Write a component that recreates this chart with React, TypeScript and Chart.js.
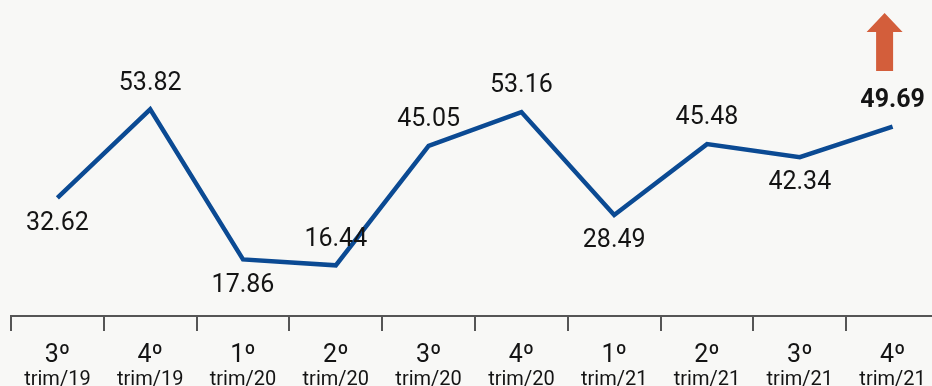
import React, { useEffect, useRef } from "react";
import { Chart, registerables } from "chart.js";

Chart.register(...registerables);

// Quarterly series
const quarters = ["3º", "4º", "1º", "2º", "3º", "4º", "1º", "2º", "3º", "4º"];
const years = ["19", "19", "20", "20", "20", "20", "21", "21", "21", "21"];
const values = [32.62, 53.82, 17.86, 16.44, 45.05, 53.16, 28.49, 45.48, 42.34, 49.69];

// Where each value label sits relative to its point
const labelSide = ["below", "above", "below", "above", "above", "above", "below", "above", "below", "above"];

const LINE_BLUE = "#0b4a93";
const AXIS_GREY = "#555555";
const TEXT = "#141414";
const ARROW = "#d35e3b";
const BG = "#f8f8f6";

const annotations = {
  id: "quarterAnnotations",
  afterDatasetsDraw(chart: any) {
    const { ctx, chartArea } = chart;
    const meta = chart.getDatasetMeta(0);
    const xs = chart.scales.x;
    ctx.save();
    ctx.textAlign = "center";
    ctx.fillStyle = TEXT;

    // value labels
    meta.data.forEach((pt: any, i: number) => {
      const last = i === meta.data.length - 1;
      ctx.font = `${last ? "bold " : ""}25px Roboto`;
      ctx.textBaseline = "middle";
      const dy = labelSide[i] === "above" ? -26 : 26;
      ctx.fillText(values[i].toFixed(2), pt.x, pt.y + dy);
    });

    // two-line category labels
    ctx.textBaseline = "alphabetic";
    quarters.forEach((q, i) => {
      const x = xs.getPixelForValue(i);
      ctx.font = "25px Roboto";
      ctx.fillText(q, x, chartArea.bottom + 46);
      ctx.font = "20px Roboto";
      ctx.fillText(`trim/${years[i]}`, x, chartArea.bottom + 69);
    });

    // upward arrow over the latest quarter
    const lastPt = meta.data[meta.data.length - 1];
    const cx = lastPt.x - 8;
    const top = chartArea.top + 13;
    ctx.fillStyle = ARROW;
    ctx.beginPath();
    ctx.moveTo(cx, top);
    ctx.lineTo(cx + 18, top + 19);
    ctx.lineTo(cx + 8.5, top + 19);
    ctx.lineTo(cx + 8.5, top + 58);
    ctx.lineTo(cx - 8.5, top + 58);
    ctx.lineTo(cx - 8.5, top + 19);
    ctx.lineTo(cx - 18, top + 19);
    ctx.closePath();
    ctx.fill();
    ctx.restore();
  },
};

export default function App() {
  const canvasRef = useRef<HTMLCanvasElement | null>(null);

  useEffect(() => {
    if (!canvasRef.current) return;
    const chart = new Chart(canvasRef.current, {
      type: "line",
      data: {
        labels: quarters.map((q, i) => `${q} trim/${years[i]}`),
        datasets: [
          {
            data: values,
            borderColor: LINE_BLUE,
            borderWidth: 4.5,
            pointRadius: 0,
            tension: 0,
            fill: false,
            borderJoinStyle: "miter",
            borderCapStyle: "butt",
          },
        ],
      },
      options: {
        responsive: false,
        devicePixelRatio: 1,
        animation: false,
        layout: { padding: { left: 11, right: 1, top: 0, bottom: 55 } },
        plugins: { legend: { display: false }, tooltip: { enabled: false } },
        scales: {
          x: {
            offset: true,
            grid: {
              display: true,
              offset: true,
              drawOnChartArea: false,
              drawTicks: true,
              tickLength: 15,
              color: AXIS_GREY,
              lineWidth: 2,
            },
            border: { display: true, color: AXIS_GREY, width: 2 },
            ticks: { display: false },
          },
          y: {
            display: false,
            min: 4.3,
            max: 80,
          },
        },
      },
      plugins: [annotations],
    });
    return () => chart.destroy();
  }, []);

  return (
    <div
      style={{
        position: "absolute",
        left: 0,
        top: 0,
        width: 932,
        height: 386,
        overflow: "hidden",
        background: BG,
      }}
    >
      <canvas ref={canvasRef} width={940} height={386} style={{ display: "block" }} />
    </div>
  );
}
